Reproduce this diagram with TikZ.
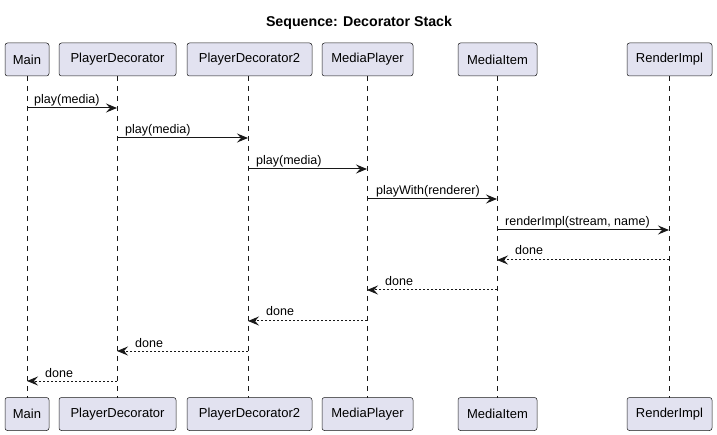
\documentclass[tikz,border=0pt]{standalone}
\usepackage{fontspec}
\setmainfont{Liberation Sans}
\usetikzlibrary{arrows.meta}
\definecolor{lineC}{HTML}{181818}
\definecolor{boxC}{HTML}{E2E2F0}
\tikzset{
  part/.style={draw=lineC, fill=boxC, rounded corners=2.5pt, line width=0.5pt, minimum height=33pt, inner sep=0pt, font=\fontsize{13}{15}\selectfont, text=black},
  life/.style={draw=lineC, line width=0.5pt, dash pattern=on 5pt off 5pt},
  msg/.style={draw=lineC, line width=1pt, -{Stealth[length=11pt,width=9pt,inset=4pt]}},
  ret/.style={msg, dash pattern=on 2pt off 2pt},
  lbl/.style={font=\fontsize{12.5}{14}\selectfont, anchor=base west, inner sep=0pt, text=black}
}
\begin{document}
\begin{tikzpicture}[x=1pt,y=-1pt]
\useasboundingbox (0,0) rectangle (717,435);
\node[font=\bfseries\fontsize{14.2}{16}\selectfont] (title) at (359,23) {Sequence: Decorator Stack};
% top participants
\node[part, minimum width=44pt] (t1) at (27,59.5) {Main};
\node[part, minimum width=117pt] (t2) at (117.5,59.5) {PlayerDecorator};
\node[part, minimum width=125pt] (t3) at (249.5,59.5) {PlayerDecorator2};
\node[part, minimum width=91pt] (t4) at (367.5,59.5) {MediaPlayer};
\node[part, minimum width=79pt] (t5) at (497.5,59.5) {MediaItem};
\node[part, minimum width=85pt] (t6) at (669.5,59.5) {RenderImpl};
% bottom participants
\node[part, minimum width=44pt] (b1) at (27,414) {Main};
\node[part, minimum width=117pt] (b2) at (117.5,414) {PlayerDecorator};
\node[part, minimum width=125pt] (b3) at (249.5,414) {PlayerDecorator2};
\node[part, minimum width=91pt] (b4) at (367.5,414) {MediaPlayer};
\node[part, minimum width=79pt] (b5) at (497.5,414) {MediaItem};
\node[part, minimum width=85pt] (b6) at (669.5,414) {RenderImpl};
% lifelines
\coordinate (l1t) at (27,76); \coordinate (l1b) at (27,397.5);
\coordinate (l2t) at (117,76); \coordinate (l2b) at (117,397.5);
\coordinate (l3t) at (248,76); \coordinate (l3b) at (248,397.5);
\coordinate (l4t) at (367,76); \coordinate (l4b) at (367,397.5);
\coordinate (l5t) at (497,76); \coordinate (l5b) at (497,397.5);
\coordinate (l6t) at (669,76); \coordinate (l6b) at (669,397.5);
\foreach \i in {1,...,6} { \draw[life] (l\i t) -- (l\i b); }
% messages
\coordinate (m1a) at (27,108); \coordinate (m1b) at (117,108);
\coordinate (m2a) at (117,138); \coordinate (m2b) at (248,138);
\coordinate (m3a) at (248,169); \coordinate (m3b) at (367,169);
\coordinate (m4a) at (367,199); \coordinate (m4b) at (497,199);
\coordinate (m5a) at (497,230); \coordinate (m5b) at (669,230);
\coordinate (m6a) at (669,260); \coordinate (m6b) at (497,260);
\coordinate (m7a) at (497,290); \coordinate (m7b) at (367,290);
\coordinate (m8a) at (367,321); \coordinate (m8b) at (248,321);
\coordinate (m9a) at (248,351); \coordinate (m9b) at (117,351);
\coordinate (m10a) at (117,381); \coordinate (m10b) at (27,381);
\draw[msg] (m1a) -- (m1b);
\draw[msg] (m2a) -- (m2b);
\draw[msg] (m3a) -- (m3b);
\draw[msg] (m4a) -- (m4b);
\draw[msg] (m5a) -- (m5b);
\draw[ret] (m6a) -- (m6b);
\draw[ret] (m7a) -- (m7b);
\draw[ret] (m8a) -- (m8b);
\draw[ret] (m9a) -- (m9b);
\draw[ret] (m10a) -- (m10b);
% labels
\node[lbl] (n1) at (34,104) {play(media)};
\node[lbl] (n2) at (125,134) {play(media)};
\node[lbl] (n3) at (256,165) {play(media)};
\node[lbl] (n4) at (376,195) {playWith(renderer)};
\node[lbl] (n5) at (505,226) {renderImpl(stream, name)};
\node[lbl] (n6) at (515,255) {done};
\node[lbl] (n7) at (385,286) {done};
\node[lbl] (n8) at (266,316) {done};
\node[lbl] (n9) at (135,347) {done};
\node[lbl] (n10) at (45,377) {done};
\end{tikzpicture}
\end{document}
